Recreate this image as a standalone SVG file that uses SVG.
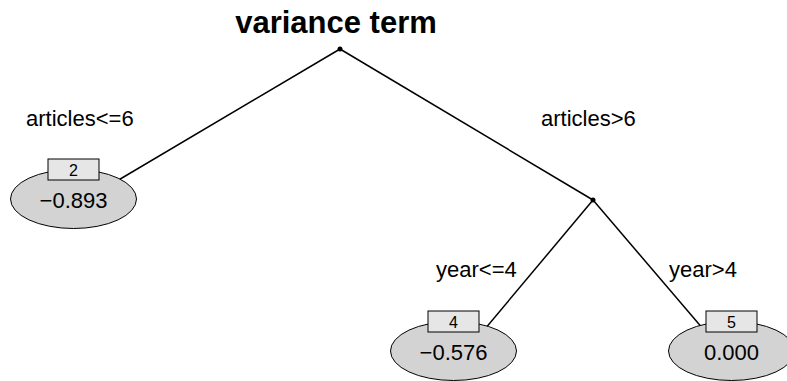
<svg xmlns="http://www.w3.org/2000/svg" width="787" height="381" viewBox="0 0 787 381">
<style>
text{font-family:"Liberation Sans",Arial,sans-serif;fill:#000}
.title{font-size:31px;font-weight:bold;text-anchor:middle}
.lab{font-size:22px}
.val{font-size:22px;text-anchor:middle}
.id{font-size:16px;text-anchor:middle}
.ell{fill:#d3d3d3;stroke:#000;stroke-width:1}
.box{fill:#e6e6e6;stroke:#000;stroke-width:1}
.edge{stroke:#000;stroke-width:1.5;fill:none}
</style>
<rect width="787" height="381" fill="#fff"/>
<text class="title" x="336" y="33">variance term</text>
<g id="connectors">
<line class="edge" x1="340" y1="49" x2="100" y2="191"/>
<line class="edge" x1="340" y1="49" x2="593" y2="200"/>
<line class="edge" x1="593" y1="200" x2="471.5" y2="345"/>
<line class="edge" x1="593" y1="200" x2="716.8" y2="345"/>
<text class="lab" x="26" y="126">articles&lt;=6</text>
<text class="lab" x="541" y="126">articles&gt;6</text>
<text class="lab" x="436" y="277">year&lt;=4</text>
<text class="lab" x="669" y="277">year&gt;4</text>
</g>
<g id="node1"><circle cx="340" cy="49" r="2.5"/></g>
<g id="node3"><circle cx="593" cy="200" r="2.5"/></g>
<g id="node2">
<ellipse class="ell" cx="73.5" cy="199" rx="63" ry="29.5"/>
<rect class="box" x="48" y="159" width="51" height="21"/>
<text class="id" x="73.5" y="175.5">2</text>
<text class="val" x="73.5" y="208">−0.893</text>
</g>
<g id="node4">
<ellipse class="ell" cx="453.5" cy="351" rx="63" ry="29.5"/>
<rect class="box" x="428" y="311" width="51" height="21"/>
<text class="id" x="453.5" y="327.5">4</text>
<text class="val" x="453.5" y="360">−0.576</text>
</g>
<g id="node5">
<ellipse class="ell" cx="731.5" cy="351" rx="63" ry="29.5"/>
<rect class="box" x="706" y="311" width="51" height="21"/>
<text class="id" x="731.5" y="327.5">5</text>
<text class="val" x="731.5" y="360">0.000</text>
</g>
</svg>
